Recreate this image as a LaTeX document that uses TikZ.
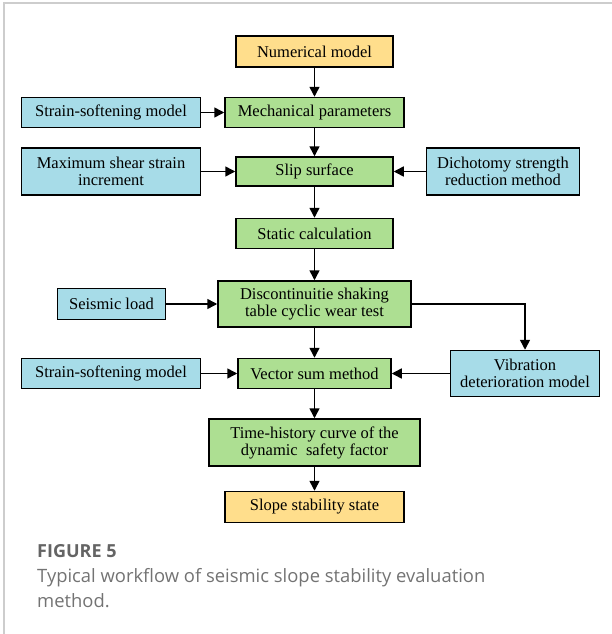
\documentclass[tikz,border=0pt]{standalone}
\usepackage{fontspec}
\setmainfont{Liberation Serif}
\newfontfamily\capfont{Open Sans}
\usetikzlibrary{arrows.meta,positioning}
\definecolor{boxyellow}{RGB}{255,222,140}
\definecolor{boxgreen}{RGB}{173,223,146}
\definecolor{boxblue}{RGB}{167,220,232}
\definecolor{framegray}{RGB}{205,205,205}
\definecolor{figgray}{RGB}{100,100,100}
\definecolor{capgray}{RGB}{115,115,115}

\begin{document}
\begin{tikzpicture}[
  x=1pt, y=1pt,
  box/.style={rectangle, draw=black, line width=1.5pt, align=center,
              inner sep=2pt, font=\fontsize{16.5}{17}\selectfont},
  endbox/.style={box, fill=boxyellow},
  stepbox/.style={box, fill=boxgreen},
  inbox/.style={box, fill=boxblue},
  arr/.style={-{Triangle[length=10pt, width=10pt]}, line width=1.5pt},
  capstyle/.style={anchor=base west, align=left, inner sep=0pt}
]
  \useasboundingbox (0,0) rectangle (612,-634);
  \draw[framegray, line width=1.5pt] (4,-634) -- (4,-3) -- (612,-3);

  % main column
  \node[endbox, minimum width=157pt, minimum height=31pt] (num) at (314.5,-51.5) {Numerical model};
  \node[stepbox, minimum width=179pt, minimum height=30pt, below=29pt of num]    (mech)   {Mechanical parameters};
  \node[stepbox, minimum width=157pt, minimum height=29pt, below=28pt of mech]   (slip)   {Slip surface};
  \node[stepbox, minimum width=157pt, minimum height=30pt, below=31pt of slip]   (static) {Static calculation};
  \node[stepbox, minimum width=193pt, minimum height=46pt, below=31pt of static] (shake)  {Discontinuitie shaking\\table cyclic wear test};
  \node[stepbox, minimum width=153pt, minimum height=30pt, below=30pt of shake]  (vsum)   {Vector sum method};
  \node[stepbox, minimum width=211pt, minimum height=47pt, below=29pt of vsum]   (fos)    {Time-history curve of the\\dynamic~ safety factor};
  \node[endbox, minimum width=179pt, minimum height=31pt, below=24pt of fos]     (state)  {Slope stability state};

  % side inputs
  \node[inbox, minimum width=179pt, minimum height=30pt, left=23pt of mech]   (soft1) {Strain-softening model};
  \node[inbox, minimum width=179pt, minimum height=47pt, left=34pt of slip]   (shear) {Maximum shear strain\\increment};
  \node[inbox, minimum width=153pt, minimum height=47pt, right=32pt of slip]  (dich)  {Dichotomy strength\\reduction method};
  \node[inbox, minimum width=108pt, minimum height=31pt, left=51pt of shake]  (seis)  {Seismic load};
  \node[inbox, minimum width=179pt, minimum height=30pt, left=36pt of vsum]   (soft2) {Strain-softening model};
  \node[inbox, minimum width=149pt, minimum height=46pt, right=58pt of vsum]  (vib)   {Vibration\\deterioration model};

  \draw[arr] (num)    -- (mech);
  \draw[arr] (mech)   -- (slip);
  \draw[arr] (slip)   -- (static);
  \draw[arr] (static) -- (shake);
  \draw[arr] (shake)  -- (vsum);
  \draw[arr] (vsum)   -- (fos);
  \draw[arr] (fos)    -- (state);
  \draw[arr] (soft1)  -- (mech);
  \draw[arr] (shear)  -- (slip);
  \draw[arr] (dich)   -- (slip);
  \draw[arr] (seis)   -- (shake);
  \draw[arr] (soft2)  -- (vsum);
  \draw[arr] (vib)    -- (vsum);
  \draw[arr] (shake.east) -| (vib.north);

  % caption
  \node[capstyle, text=figgray, font=\capfont\fontsize{18}{22}\selectfont\bfseries] (fig) at (37,-557) {FIGURE 5};
  \node[capstyle, text=capgray, font=\capfont\fontsize{18.4}{25}\selectfont] (cap) at (37,-607)
    {Typical workflow of seismic slope stability evaluation\\method.};
\end{tikzpicture}
\end{document}
